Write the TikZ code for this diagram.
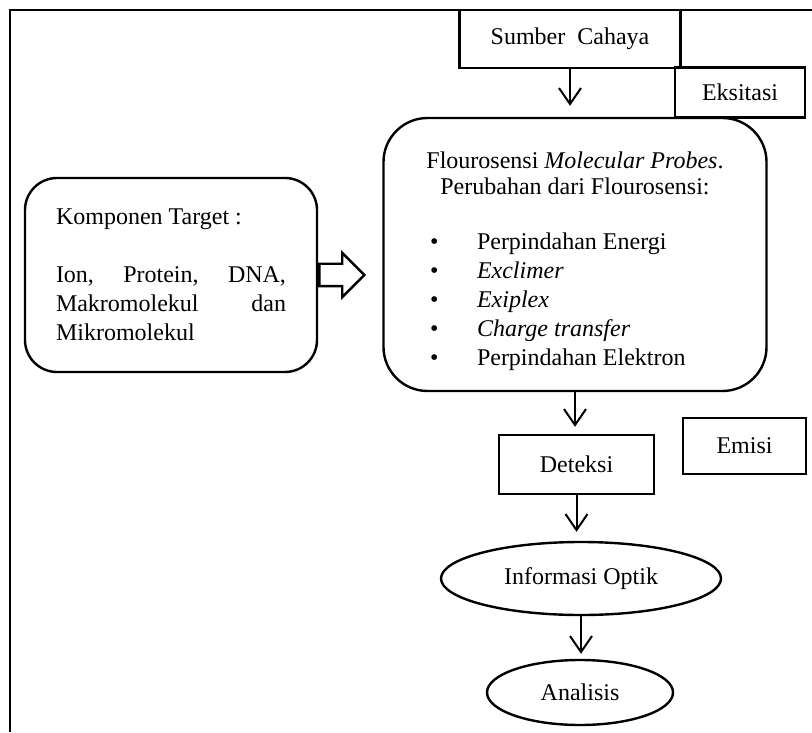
\documentclass[tikz,border=0pt]{standalone}
\usepackage{fontspec}
\setmainfont{Liberation Serif}
\usetikzlibrary{arrows.meta,shapes.geometric,shapes.arrows}
\begin{document}
\begin{tikzpicture}[x=0.5pt,y=-0.5pt,
  every node/.style={font=\fontsize{12pt}{14.5pt}\selectfont},
  box/.style={draw,line width=1.2pt,inner sep=0pt},
  oval/.style={draw,ellipse,line width=1.2pt,inner sep=0pt},
  flow/.style={line width=1pt,-{Straight Barb[length=8pt,width=11pt]}}]
\useasboundingbox (0,0) rectangle (812,732);
\draw[line width=1.2pt] (812,10) -- (10,10) -- (10,732);
\node[box,minimum width=110.5pt,minimum height=29pt] (sumber) at (570,39) {Sumber\ \ Cahaya};
\node[box,minimum width=65pt,minimum height=25pt] (eksitasi) at (740,92.5) {Eksitasi};
\node[box,rounded corners=22pt,minimum width=191.5pt,minimum height=136.5pt] (probe) at (575,254.5)
  {\parbox{160pt}{\vspace*{7pt}\centering Flourosensi \textit{Molecular Probes}.\\[-1.5pt]
   Perubahan dari Flourosensi:\par\vspace{13pt}\raggedright
   \hspace*{7.5pt}\makebox[23.5pt][l]{\textbullet}Perpindahan Energi\\
   \hspace*{7.5pt}\makebox[23.5pt][l]{\textbullet}\textit{Exclimer}\\
   \hspace*{7.5pt}\makebox[23.5pt][l]{\textbullet}\textit{Exiplex}\\
   \hspace*{7.5pt}\makebox[23.5pt][l]{\textbullet}\textit{Charge transfer}\\
   \hspace*{7.5pt}\makebox[23.5pt][l]{\textbullet}Perpindahan Elektron\par}};
\node[box,rounded corners=16pt,minimum width=146pt,minimum height=97pt] (target) at (171,275)
  {\parbox{115pt}{Komponen Target :\\[14.5pt]
   Ion,\hfill Protein,\hfill DNA,\\ Makromolekul\hfill dan\\ Mikromolekul}};
\node[draw,single arrow,line width=1.2pt,inner sep=5pt,minimum height=22.5pt,minimum width=21pt,
  single arrow head extend=5.5pt,anchor=west] (push) at (target.east) {};
\node[box,minimum width=77.5pt,minimum height=29.5pt] (deteksi) at (576.5,464.5) {Deteksi};
\node[box,minimum width=61.5pt,minimum height=28pt] (emisi) at (744.5,446) {Emisi};
\node[oval,minimum width=140pt,minimum height=36.5pt] (info) at (581,578.5) {Informasi Optik};
\node[oval,minimum width=93pt,minimum height=32.5pt] (analisis) at (580,692.5) {Analisis};
\foreach \a/\b/\g in {sumber/probe/5.5pt, probe/deteksi/3.5pt,
  deteksi/info/4.5pt, info/analisis/2.5pt}
    \draw[flow,shorten >=\g] (\a.south) -- (\a.south |- \b.north);
\end{tikzpicture}
\end{document}
